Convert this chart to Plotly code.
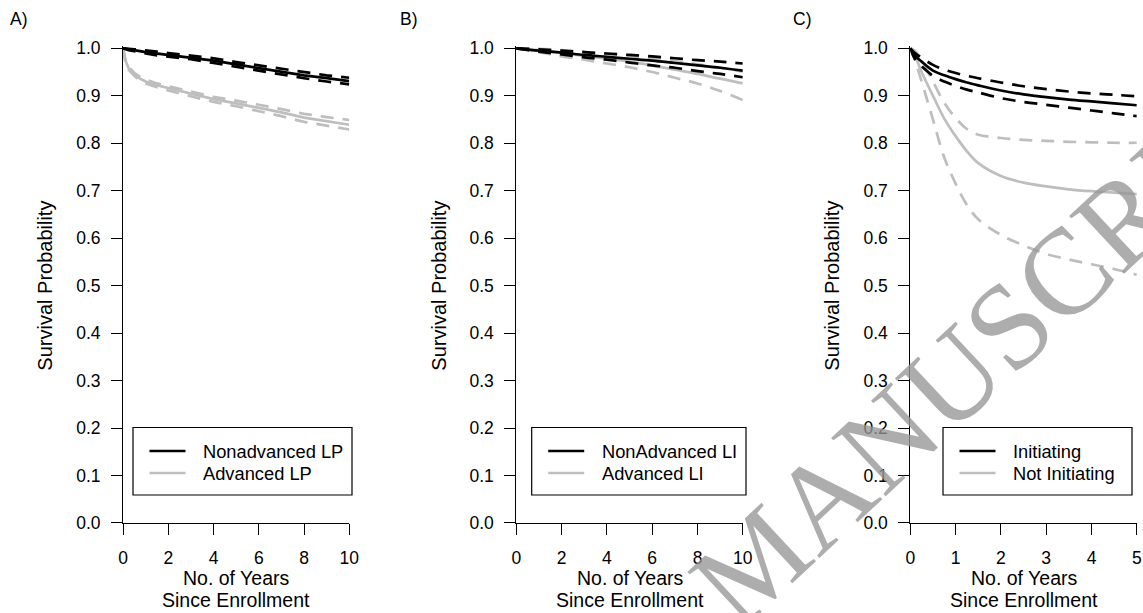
import plotly.graph_objects as go

# ---------------- data ----------------
# Panel A (Kaplan-Meier, LP)
tA = [0, 0.1, 0.25, 0.5, 0.75, 1, 1.5, 2, 3, 4, 5, 6, 7, 8, 9, 10]
nonadv_lp = [1.0, 0.999, 0.998, 0.996, 0.994, 0.992, 0.989, 0.986, 0.981, 0.974, 0.966, 0.958, 0.950, 0.943, 0.937, 0.931]
nonadv_lp_hi = [1.0, 1.0, 0.999, 0.998, 0.997, 0.995, 0.993, 0.990, 0.985, 0.979, 0.971, 0.964, 0.956, 0.949, 0.943, 0.938]
nonadv_lp_lo = [1.0, 0.998, 0.996, 0.994, 0.991, 0.989, 0.985, 0.982, 0.977, 0.969, 0.961, 0.952, 0.944, 0.937, 0.930, 0.924]
adv_lp = [1.0, 0.975, 0.958, 0.945, 0.936, 0.930, 0.922, 0.916, 0.904, 0.893, 0.884, 0.875, 0.865, 0.854, 0.846, 0.839]
adv_lp_hi = [1.0, 0.978, 0.961, 0.948, 0.940, 0.934, 0.926, 0.920, 0.909, 0.898, 0.890, 0.881, 0.872, 0.862, 0.855, 0.849]
adv_lp_lo = [1.0, 0.972, 0.955, 0.942, 0.932, 0.926, 0.918, 0.911, 0.899, 0.887, 0.878, 0.868, 0.857, 0.845, 0.837, 0.829]

# Panel B (LI)
tB = [0, 1, 2, 3, 4, 5, 6, 7, 8, 9, 10]
nonadv_li = [1.0, 0.995, 0.991, 0.986, 0.982, 0.978, 0.974, 0.969, 0.964, 0.959, 0.953]
nonadv_li_hi = [1.0, 0.998, 0.995, 0.992, 0.989, 0.986, 0.983, 0.979, 0.975, 0.972, 0.968]
nonadv_li_lo = [1.0, 0.993, 0.987, 0.981, 0.976, 0.970, 0.964, 0.959, 0.952, 0.946, 0.939]
adv_li = [1.0, 0.996, 0.990, 0.984, 0.978, 0.972, 0.964, 0.955, 0.946, 0.936, 0.926]
adv_li_hi = [1.0, 0.999, 0.996, 0.992, 0.988, 0.984, 0.979, 0.973, 0.966, 0.959, 0.951]
adv_li_lo = [1.0, 0.992, 0.983, 0.976, 0.968, 0.960, 0.950, 0.938, 0.926, 0.910, 0.891]

# Panel C (initiating vs not)
tC = [0, 0.1, 0.25, 0.5, 0.75, 1, 1.25, 1.5, 2, 2.5, 3, 3.5, 4, 4.5, 5]
init = [1.0, 0.985, 0.972, 0.953, 0.943, 0.935, 0.928, 0.922, 0.911, 0.903, 0.897, 0.892, 0.888, 0.884, 0.880]
init_hi = [1.0, 0.990, 0.980, 0.965, 0.955, 0.948, 0.942, 0.937, 0.928, 0.920, 0.914, 0.909, 0.905, 0.902, 0.899]
init_lo = [1.0, 0.978, 0.962, 0.942, 0.930, 0.921, 0.913, 0.907, 0.895, 0.887, 0.881, 0.875, 0.869, 0.863, 0.857]
noinit = [1.0, 0.985, 0.950, 0.900, 0.852, 0.815, 0.783, 0.758, 0.731, 0.717, 0.709, 0.703, 0.699, 0.696, 0.693]
noinit_hi = [1.0, 0.995, 0.975, 0.930, 0.885, 0.853, 0.830, 0.818, 0.811, 0.807, 0.805, 0.803, 0.802, 0.801, 0.801]
noinit_lo = [1.0, 0.975, 0.930, 0.850, 0.770, 0.715, 0.670, 0.640, 0.607, 0.585, 0.567, 0.555, 0.545, 0.535, 0.523]

panel_labels = ["A)", "B)", "C)"]
legend_labels = [["Nonadvanced LP", "Advanced LP"],
                 ["NonAdvanced LI", "Advanced LI"],
                 ["Initiating", "Not Initiating"]]
xticks_AB = [0, 2, 4, 6, 8, 10]
xticks_C = [0, 1, 2, 3, 4, 5]
yticks = [0.0, 0.1, 0.2, 0.3, 0.4, 0.5, 0.6, 0.7, 0.8, 0.9, 1.0]

# ---------------- layout helpers ----------------
W, H = 1143, 613
def px(x):
    return x / W
def py(y):
    return (H - y) / H

BLACK = "#000000"
GREY = "#bebebe"
FONT = "Liberation Sans, Arial, sans-serif"
DASH = "13px,9px"
LW = 2.7

fig = go.Figure()

def add_group(t, mid, hi, lo, color, xa, ya, shape):
    for vals, dash in ((hi, DASH), (lo, DASH), (mid, "solid")):
        fig.add_trace(go.Scatter(x=t, y=vals, mode="lines", xaxis=xa, yaxis=ya,
                                 line=dict(color=color, width=LW, dash=dash, shape=shape),
                                 showlegend=False, hoverinfo="skip"))

add_group(tA, adv_lp, adv_lp_hi, adv_lp_lo, GREY, "x", "y", "linear")
add_group(tA, nonadv_lp, nonadv_lp_hi, nonadv_lp_lo, BLACK, "x", "y", "linear")
add_group(tB, adv_li, adv_li_hi, adv_li_lo, GREY, "x2", "y2", "spline")
add_group(tB, nonadv_li, nonadv_li_hi, nonadv_li_lo, BLACK, "x2", "y2", "spline")
add_group(tC, noinit, noinit_hi, noinit_lo, GREY, "x3", "y3", "spline")
add_group(tC, init, init_hi, init_lo, BLACK, "x3", "y3", "spline")

# panel pixel geometry: (x of t=0, x of t=max)
panels = [(123, 349.3), (516.3, 742.8), (910.3, 1136.8)]
y_top, y_bot = 48.3, 523.0
yr = [0, 1.005]
y_top_ext = y_bot - (y_bot - y_top) * yr[1]

axis_common = dict(showline=True, linewidth=1, linecolor=BLACK, ticks="outside",
                   ticklen=11, tickwidth=1, tickcolor=BLACK, showgrid=False,
                   zeroline=False, automargin=False,
                   tickfont=dict(family=FONT, size=17.5, color=BLACK))

layout_axes = {}
for i, (x0, x1) in enumerate(panels):
    sfx = "" if i == 0 else str(i + 1)
    xt = xticks_C if i == 2 else xticks_AB
    layout_axes["xaxis" + sfx] = dict(axis_common, domain=[px(x0), px(x1)],
                                      range=[0, xt[-1]], tickvals=xt,
                                      anchor="y" + sfx, ticklabelstandoff=8)
    layout_axes["yaxis" + sfx] = dict(axis_common, domain=[py(y_bot), py(y_top_ext)],
                                      range=yr, tickvals=yticks, tickformat=".1f",
                                      anchor="x" + sfx, ticklabelstandoff=7)

annotations = []
shapes = []
label_x = [19, 409, 802]
ytitle_x = [45, 439, 832]
legend_boxes = [(133, 352), (531.7, 746), (943, 1132)]
for i, (x0, x1) in enumerate(panels):
    xm = (x0 + x1) / 2
    annotations.append(dict(text=panel_labels[i], x=px(label_x[i]), y=py(18.5), xref="paper", yref="paper",
                            showarrow=False, xanchor="center", yanchor="middle",
                            font=dict(family=FONT, size=17.5, color=BLACK)))
    annotations.append(dict(text="Survival Probability", x=px(ytitle_x[i]), y=py((y_top + y_bot) / 2),
                            xref="paper", yref="paper", showarrow=False, textangle=-90,
                            xanchor="center", yanchor="middle",
                            font=dict(family=FONT, size=20, color=BLACK)))
    annotations.append(dict(text="No. of Years", x=px(xm), y=py(578), xref="paper", yref="paper",
                            showarrow=False, xanchor="center", yanchor="middle",
                            font=dict(family=FONT, size=19.5, color=BLACK)))
    annotations.append(dict(text="Since Enrollment", x=px(xm), y=py(600), xref="paper", yref="paper",
                            showarrow=False, xanchor="center", yanchor="middle",
                            font=dict(family=FONT, size=19.5, color=BLACK)))
    # legend box
    bx0, bx1 = legend_boxes[i]
    shapes.append(dict(type="rect", xref="paper", yref="paper", x0=px(bx0), x1=px(bx1),
                       y0=py(495), y1=py(427.5), line=dict(color=BLACK, width=1.2),
                       fillcolor="rgba(255,255,255,0)"))
    sx0 = bx0 + 16.5
    for j, (col, yy) in enumerate(((BLACK, 451), (GREY, 473))):
        shapes.append(dict(type="line", xref="paper", yref="paper", x0=px(sx0), x1=px(sx0 + 36),
                           y0=py(yy), y1=py(yy), line=dict(color=col, width=LW)))
        annotations.append(dict(text=legend_labels[i][j], x=px(sx0 + 51.5), y=py(yy), xref="paper",
                                yref="paper", showarrow=False, xanchor="left", yanchor="middle",
                                font=dict(family=FONT, size=18.3, color=BLACK)))

# watermark
annotations.append(dict(text="MANUSCRIPT", x=px(998), y=py(334), xref="paper", yref="paper",
                        showarrow=False, textangle=-43, xanchor="center", yanchor="middle",
                        font=dict(family="Liberation Serif, Times New Roman, serif", size=122,
                                  color="rgba(150,150,150,0.78)")))

fig.update_layout(template="none", width=W, height=H, margin=dict(l=0, r=0, t=0, b=0, pad=0),
                  paper_bgcolor="white", plot_bgcolor="white", showlegend=False,
                  annotations=annotations, shapes=shapes, **layout_axes)

fig.write_html("out.html", config={"displayModeBar": False},
               post_script="document.body.style.margin='0px';"
                           "document.body.style.overflow='hidden';"
                           "document.documentElement.style.overflow='hidden';")
